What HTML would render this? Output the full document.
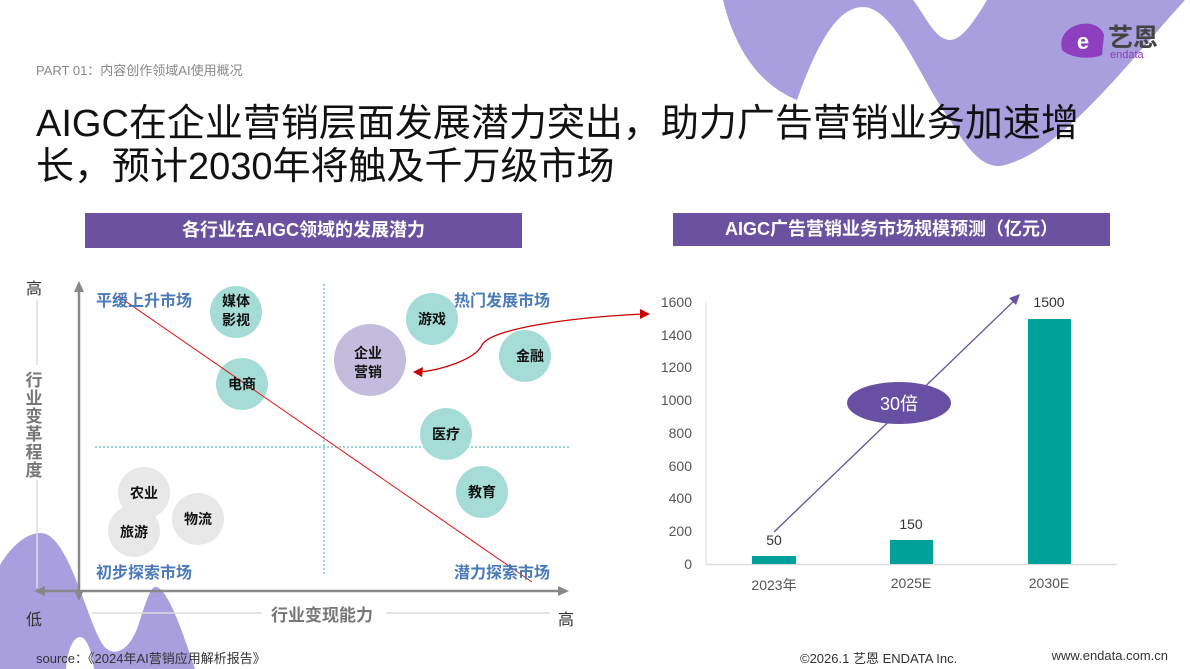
<!DOCTYPE html>
<html><head><meta charset="utf-8"><style>
body{margin:0;width:1190px;height:669px;overflow:hidden;background:#fff;font-family:"Liberation Sans","Noto Sans CJK SC",sans-serif;position:relative}
.a{position:absolute;white-space:nowrap}
</style></head><body>
<svg class="a" style="left:0;top:0" width="1190" height="669" viewBox="0 0 1190 669">
<path d="M723,0 C735,50 760,85 797,100 C815,50 835,8 862,7 C895,6 920,80 950,120 C965,145 980,167 1000,166 C1060,155 1130,60 1185,0 L987,0 C975,20 962,40 950,40 C935,40 925,15 913,0 Z" fill="#a99ede"/>
<path d="M0,669 L0,565 C15,540 35,528 48,535 C70,548 85,610 100,640 C110,660 130,655 140,620 C148,595 152,585 157,587 C170,592 185,640 195,669 Z" fill="#a99ede"/>
<path d="M66,669 C68,645 75,637 80,637 C86,637 92,650 94,669 Z" fill="#fff"/>
<!-- header bars -->
<rect x="85" y="213" width="437" height="35" fill="#6b52a0"/>
<rect x="673" y="213" width="437" height="33" fill="#6b52a0"/>
<!-- left chart -->
<line x1="37" y1="300" x2="37" y2="365" stroke="#ddd" stroke-width="1.5"/>
<line x1="37" y1="480" x2="37" y2="588" stroke="#ddd" stroke-width="1.5"/>
<line x1="92" y1="613" x2="262" y2="613" stroke="#ddd" stroke-width="1.5"/>
<line x1="386" y1="613" x2="550" y2="613" stroke="#ddd" stroke-width="1.5"/>
<line x1="324" y1="284" x2="324" y2="576" stroke="#3bb3b0" stroke-width="1" stroke-dasharray="2,2"/>
<line x1="95" y1="447" x2="570" y2="447" stroke="#3bb3b0" stroke-width="1" stroke-dasharray="2,2"/>
<line x1="79" y1="290" x2="79" y2="595" stroke="#888" stroke-width="2.5"/>
<path d="M79,281 L74,292 L84,292 Z M79,601 L74,590 L84,590 Z" fill="#888"/>
<line x1="42" y1="591" x2="562" y2="591" stroke="#888" stroke-width="2.5"/>
<path d="M34,591 L45,586 L45,596 Z M569,591 L558,586 L558,596 Z" fill="#888"/>
<g fill="#a5ddd6">
<circle cx="236" cy="312" r="26"/><circle cx="242" cy="384" r="26"/><circle cx="432" cy="319" r="26"/>
<circle cx="525" cy="356" r="26"/><circle cx="446" cy="434" r="26"/><circle cx="482" cy="492" r="26"/>
</g>
<circle cx="370" cy="360" r="36" fill="#c3bcdc"/>
<g fill="#e6e6e6" opacity="0.9">
<circle cx="144" cy="493" r="26"/><circle cx="134" cy="531" r="26"/><circle cx="198" cy="519" r="26"/>
</g>
<line x1="118" y1="296" x2="532" y2="582" stroke="#e01010" stroke-width="1"/>
<path d="M643,314 C560,318 490,330 482,345 C475,360 440,370 420,372" fill="none" stroke="#c00" stroke-width="1.3"/>
<path d="M413,372 L423,367 L422,377 Z M650,314 L640,309 L640,319 Z" fill="#c00"/>
<g font-size="14" font-weight="bold" fill="#111" text-anchor="middle">
<text x="236" y="306">媒体</text><text x="236" y="325">影视</text>
<text x="242" y="389">电商</text>
<text x="368" y="358">企业</text><text x="368" y="377">营销</text>
<text x="432" y="324">游戏</text><text x="530" y="361">金融</text>
<text x="446" y="439">医疗</text><text x="482" y="497">教育</text>
<text x="144" y="498">农业</text><text x="134" y="537">旅游</text><text x="198" y="524">物流</text>
</g>
<g font-size="16" font-weight="bold" fill="#4a7ab8">
<text x="96" y="306">平缓上升市场</text><text x="454" y="306">热门发展市场</text>
<text x="96" y="578">初步探索市场</text><text x="454" y="578">潜力探索市场</text>
</g>
<g font-size="16" fill="#333"><text x="26" y="294">高</text><text x="26" y="625">低</text><text x="558" y="625">高</text></g>
<text x="322" y="621" font-size="17" font-weight="bold" fill="#777" text-anchor="middle">行业变现能力</text>
<g font-size="17" font-weight="bold" fill="#777" text-anchor="middle">
<text x="34" y="386">行</text><text x="34" y="404">业</text><text x="34" y="422">变</text><text x="34" y="440">革</text><text x="34" y="458">程</text><text x="34" y="476">度</text>
</g>
<!-- right chart -->
<line x1="706" y1="302" x2="706" y2="565" stroke="#ddd" stroke-width="1"/>
<line x1="706" y1="564.5" x2="1117" y2="564.5" stroke="#ddd" stroke-width="1.5"/>
<g font-size="14" fill="#555" text-anchor="end">
<text x="692" y="307">1600</text><text x="692" y="340">1400</text><text x="692" y="372">1200</text><text x="692" y="405">1000</text>
<text x="692" y="438">800</text><text x="692" y="471">600</text><text x="692" y="503">400</text><text x="692" y="536">200</text><text x="692" y="569">0</text>
</g>
<g fill="#00a19a">
<rect x="752" y="556" width="44" height="8"/><rect x="890" y="540" width="43" height="24"/><rect x="1028" y="319" width="43" height="245"/>
</g>
<g font-size="14" fill="#333" text-anchor="middle">
<text x="774" y="545">50</text><text x="911" y="529">150</text><text x="1049" y="307">1500</text>
</g>
<g font-size="14" fill="#555" text-anchor="middle">
<text x="774" y="590">2023年</text><text x="911" y="588">2025E</text><text x="1049" y="588">2030E</text>
</g>
<line x1="774" y1="532" x2="1017" y2="298" stroke="#6750a4" stroke-width="1.3"/>
<path d="M1020,294 L1009,298 L1016,305 Z" fill="#6750a4"/>
<ellipse cx="899" cy="403" rx="52" ry="21" fill="#6750a4"/>
<text x="899" y="410" font-size="18" fill="#fff" text-anchor="middle">30倍</text>
<!-- logo -->
<path d="M1068,30 C1080,20 1100,22 1104,35 L1102,55 C1090,60 1070,58 1062,50 C1060,42 1062,35 1068,30 Z" fill="#8d3fc0"/>
<text x="1083" y="49" font-size="22" font-weight="bold" fill="#fff" text-anchor="middle">e</text>
<text x="1108" y="46" font-size="25" font-weight="bold" fill="#444">艺恩</text>
<text x="1110" y="58" font-size="11" fill="#8d3fc0">endata</text>
</svg>
<div class="a" style="left:36px;top:60px;font-size:13px;color:#888">PART 01：内容创作领域AI使用概况</div>
<div class="a" style="left:36px;top:103px;font-size:38px;line-height:43px;color:#111;white-space:normal;width:1100px">AIGC在企业营销层面发展潜力突出，助力广告营销业务加速增<br>长，预计2030年将触及千万级市场</div>
<div class="a" style="left:85px;top:213px;width:437px;line-height:35px;text-align:center;color:#fff;font-size:18px;font-weight:bold">各行业在AIGC领域的发展潜力</div>
<div class="a" style="left:673px;top:213px;width:437px;line-height:33px;text-align:center;color:#fff;font-size:18px;font-weight:bold">AIGC广告营销业务市场规模预测（亿元）</div>
<div class="a" style="left:36px;top:648px;font-size:13px;color:#333">source：《2024年AI营销应用解析报告》</div>
<div class="a" style="left:800px;top:648px;font-size:13px;color:#333">©2026.1 艺恩 ENDATA Inc.</div>
<div class="a" style="right:22px;top:648px;font-size:13px;color:#333">www.endata.com.cn</div>
</body></html>
